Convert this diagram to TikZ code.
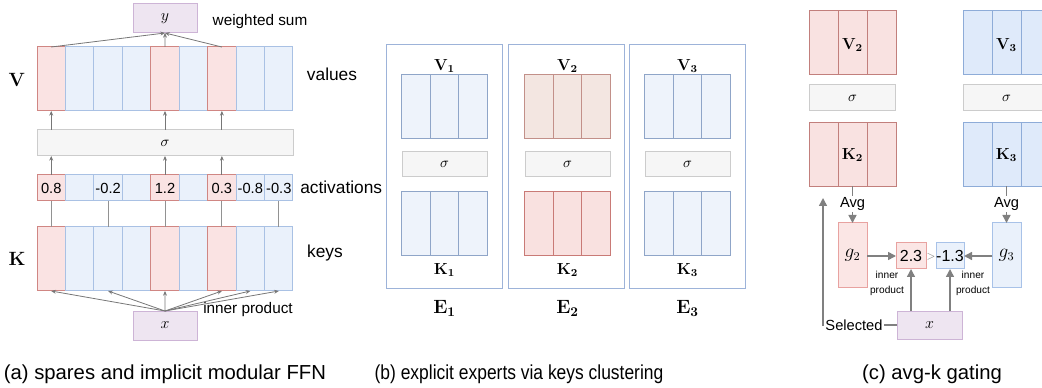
\documentclass[tikz,border=0pt]{standalone}
\usepackage[no-math]{fontspec}
\setmainfont{Liberation Sans}
\usetikzlibrary{arrows.meta,calc}
\definecolor{aRF}{HTML}{FAE3E3}\definecolor{aRD}{HTML}{D08683}
\definecolor{aBF}{HTML}{EAF1FB}\definecolor{aBD}{HTML}{A9C1E4}
\definecolor{bBF}{HTML}{EEF3FB}\definecolor{bBD}{HTML}{8FA5C8}
\definecolor{bVF}{HTML}{F3E6E1}\definecolor{bVD}{HTML}{C29089}
\definecolor{bKF}{HTML}{F9E1E0}\definecolor{bKD}{HTML}{C97A76}
\definecolor{eD}{HTML}{9DB3D9}
\definecolor{cRF}{HTML}{F9E2E1}\definecolor{cRD}{HTML}{C27F7C}
\definecolor{cBF}{HTML}{DFEAFA}\definecolor{cBD}{HTML}{8EACD8}
\definecolor{gRF}{HTML}{FBE6E5}\definecolor{gRD}{HTML}{E8A2A0}
\definecolor{gBF}{HTML}{EAF1FB}\definecolor{gBD}{HTML}{A8C2E8}
\definecolor{sgF}{HTML}{F6F6F6}\definecolor{sgD}{HTML}{CCCCCC}
\definecolor{lvF}{HTML}{EEE5F1}\definecolor{lvD}{HTML}{CDB4D6}
\definecolor{arr}{HTML}{777777}
\definecolor{carr}{HTML}{808080}
\begin{document}
\begin{tikzpicture}[x=0.75pt,y=-0.75pt,
  box/.style={draw, inner sep=0pt, outer sep=0pt, line width=0.75pt},
  acolR/.style={box, fill=aRF, draw=aRD, minimum width=21.33pt, minimum height=48pt},
  acolB/.style={box, fill=aBF, draw=aBD, minimum width=21.33pt, minimum height=48pt},
  aactR/.style={box, fill=aRF, draw=aRD, minimum width=21.33pt, minimum height=19.5pt, font=\fontsize{11}{12}\selectfont},
  aactB/.style={box, fill=aBF, draw=aBD, minimum width=21.33pt, minimum height=19.5pt, font=\fontsize{11}{12}\selectfont},
  sigbox/.style={box, fill=sgF, draw=sgD, font=\fontsize{11}{12}\selectfont},
  lavbox/.style={box, fill=lvF, draw=lvD, font=\fontsize{12}{13}\selectfont},
  bcolB/.style={box, fill=bBF, draw=bBD, minimum width=21.375pt, minimum height=48pt},
  bcolV/.style={box, fill=bVF, draw=bVD, minimum width=21.375pt, minimum height=48pt},
  bcolK/.style={box, fill=bKF, draw=bKD, minimum width=21.375pt, minimum height=48pt},
  ebox/.style={box, draw=eD, minimum width=87pt, minimum height=183pt},
  ccolR/.style={box, fill=cRF, draw=cRD, minimum width=21.75pt, minimum height=48pt, font=\fontsize{11}{13}\selectfont},
  ccolB/.style={box, fill=cBF, draw=cBD, minimum width=21.75pt, minimum height=48pt, font=\fontsize{11}{13}\selectfont},
  lbl/.style={font=\fontsize{13}{15}\selectfont, inner sep=0pt},
  captext/.style={font=\fontsize{15.2}{18}\selectfont, inner sep=0pt},
  aarrow/.style={draw=arr, line width=0.6pt, -{Stealth[length=3.5pt,width=3pt]}},
  aline/.style={draw=arr!80, line width=0.6pt},
  carrow/.style={draw=carr, line width=1.1pt, -{Triangle[length=6pt,width=6pt]}},
  cline/.style={draw=carr, line width=0.6pt},
]
\useasboundingbox (0,0) rectangle (1042,388);
\clip (0,0) rectangle (1042,388);

% ---------------- panel (a) ----------------
\foreach \i/\c in {1/R,2/B,3/B,4/B,5/R,6/B,7/R,8/B,9/B}{
  \node[acol\c] (av\i) at ({37+28.444*(\i-0.5)},79) {};
  \node[acol\c] (ak\i) at ({37+28.444*(\i-0.5)},259) {};
}
\foreach \i/\c/\t in {1/R/0.8,2/B/,3/B/-0.2,4/B/,5/R/1.2,6/B/,7/R/0.3,8/B/-0.8,9/B/-0.3}{
  \node[aact\c] (aa\i) at ({37+28.444*(\i-0.5)},188) {\t};
}
\node[sigbox, minimum width=192pt, minimum height=19.5pt] (asig) at (165,143) {$\sigma$};
\node[lavbox, minimum width=48pt, minimum height=21.75pt] (ay) at (165,18.5) {$y$};
\node[lavbox, minimum width=48pt, minimum height=21.75pt] (ax) at (165,325.5) {$x$};

\node[font=\fontsize{14.5}{16}\selectfont] (aVl) at (17,80) {$\mathbf{V}$};
\node[font=\fontsize{14.5}{16}\selectfont] (aKl) at (17,259) {$\mathbf{K}$};
\node[lbl] (avals) at (332,74) {values};
\node[lbl] (akeys) at (325,253) {keys};
\node[lbl, anchor=west] (aacts) at (300,187) {activations};
\node[font=\fontsize{11.5}{13}\selectfont, inner sep=0pt] (aws) at (260,22) {weighted sum};
\node[font=\fontsize{11.5}{13}\selectfont, inner sep=0pt] (aip) at (248,310) {inner product};
\node[captext] (capa) at (165,374) {(a) spares and implicit modular FFN};

\foreach \i in {1,5,7}{
  \draw[aarrow] (av\i.north) -- (ay.south);
  \draw[aarrow] (aa\i.north) -- (aa\i.north |- asig.south);
  \draw[aarrow] (av\i.south |- asig.north) -- (av\i.south);
}
\foreach \i in {1,3,5,7,9}{
  \draw[aline] (ak\i.north) -- (aa\i.south);
}
\foreach \i in {1,3,5,7,8,9}{
  \draw[aarrow] (ax.north) -- (ak\i.south);
}

% ---------------- panel (b) ----------------
\foreach \e/\cx/\ex/\vs/\ks in {1/444.5/444/B/B,2/567.5/566/V/K,3/687.5/687/B/B}{
  \node[ebox] (be\e) at (\ex,167) {};
  \foreach \j in {1,2,3}{
    \node[bcol\vs] (bv\e\j) at ({\cx+28.5*(\j-2)},107) {};
    \node[bcol\ks] (bk\e\j) at ({\cx+28.5*(\j-2)},224) {};
  }
  \node[sigbox, minimum width=63.75pt, minimum height=18.75pt] (bs\e) at (\cx,164.5) {$\sigma$};
  \node[font=\fontsize{11.5}{13}\selectfont, inner sep=0pt] (bvl\e) at (\cx,66) {$\mathbf{V_{\e}}$};
  \node[font=\fontsize{11.5}{13}\selectfont, inner sep=0pt] (bkl\e) at (\cx,270) {$\mathbf{K_{\e}}$};
  \node[font=\fontsize{14}{16}\selectfont, inner sep=0pt] (bel\e) at (\cx,308) {$\mathbf{E_{\e}}$};
}
\node[captext, xscale=0.86] (capb) at (519,374) {(b) explicit experts via keys clustering};

% ---------------- panel (c) ----------------
\foreach \j/\x in {1/823.5,2/852.5,3/881.5}{
  \node[ccolR] (cv2\j) at (\x,43) {};
  \node[ccolR] (ck2\j) at (\x,154.5) {};
}
\foreach \j/\x in {1/977.5,2/1006.5,3/1035.5}{
  \node[ccolB] (cv3\j) at (\x,43) {};
  \node[ccolB] (ck3\j) at (\x,154.5) {};
}
\node[font=\fontsize{11.5}{13}\selectfont] (cv2l) at (852.5,45) {$\mathbf{V_2}$};
\node[font=\fontsize{11.5}{13}\selectfont] (ck2l) at (852.5,155) {$\mathbf{K_2}$};
\node[font=\fontsize{11.5}{13}\selectfont] (cv3l) at (1006.5,45) {$\mathbf{V_3}$};
\node[font=\fontsize{11.5}{13}\selectfont] (ck3l) at (1006.5,155) {$\mathbf{K_3}$};
\node[sigbox, minimum width=64.5pt, minimum height=19.5pt] (cs2) at (852.5,98) {$\sigma$};
\node[sigbox, minimum width=64.5pt, minimum height=19.5pt] (cs3) at (1006.5,98) {$\sigma$};

\node[font=\fontsize{11}{13}\selectfont, inner sep=1pt] (avg2) at (852.5,204) {Avg};
\node[font=\fontsize{11}{13}\selectfont, inner sep=1pt] (avg3) at (1006.5,204) {Avg};
\node[box, fill=gRF, draw=gRD, minimum width=21.75pt, minimum height=48.75pt, font=\fontsize{13.5}{15}\selectfont] (g2) at (852.5,255.5) {$g_2$};
\node[box, fill=gBF, draw=gBD, minimum width=21.75pt, minimum height=48.75pt, font=\fontsize{13.5}{15}\selectfont] (g3) at (1006.5,255.5) {$g_3$};
\node[box, fill=gRF, draw=gRD, minimum width=22.5pt, minimum height=19.5pt, font=\fontsize{12}{14}\selectfont] (s23) at (911,256) {2.3};
\node[box, fill=gBF, draw=gBD, minimum width=21pt, minimum height=19.5pt, font=\fontsize{12}{14}\selectfont] (s13) at (950,256) {-1.3};
\node[font=\fontsize{8}{9}\selectfont, text=gray, inner sep=0pt] (gt) at (931,257) {$>$};
\node[lavbox, minimum width=48.75pt, minimum height=21pt] (cx) at (929.5,325) {$x$};
\node[font=\fontsize{7.6}{11}\selectfont, align=center, inner sep=0pt] (ip2) at (887,283.5) {inner\\product};
\node[font=\fontsize{7.6}{11}\selectfont, align=center, inner sep=0pt] (ip3) at (973,283.5) {inner\\product};

\draw[cline] (ck22.south) -- (avg2.north);
\draw[cline] (ck32.south) -- (avg3.north);
\draw[carrow] (avg2.south) -- (g2.north);
\draw[carrow] (avg3.south) -- (g3.north);
\draw[carrow] (g2.east |- s23.west) -- (s23.west);
\draw[carrow] (g3.west |- s13.east) -- (s13.east);
\draw[carrow] (s23.south |- cx.north) -- (s23.south);
\draw[carrow] (s13.south |- cx.north) -- (s13.south);
\coordinate (selend) at (823,198);
\draw[carrow] (cx.west) -- (823,325) -- (selend);
\node[fill=white, inner sep=1pt, font=\fontsize{11}{13}\selectfont] (sel) at (854,325) {Selected};
\node[captext] (capc) at (932,374) {(c) avg-k gating};
\end{tikzpicture}
\end{document}
